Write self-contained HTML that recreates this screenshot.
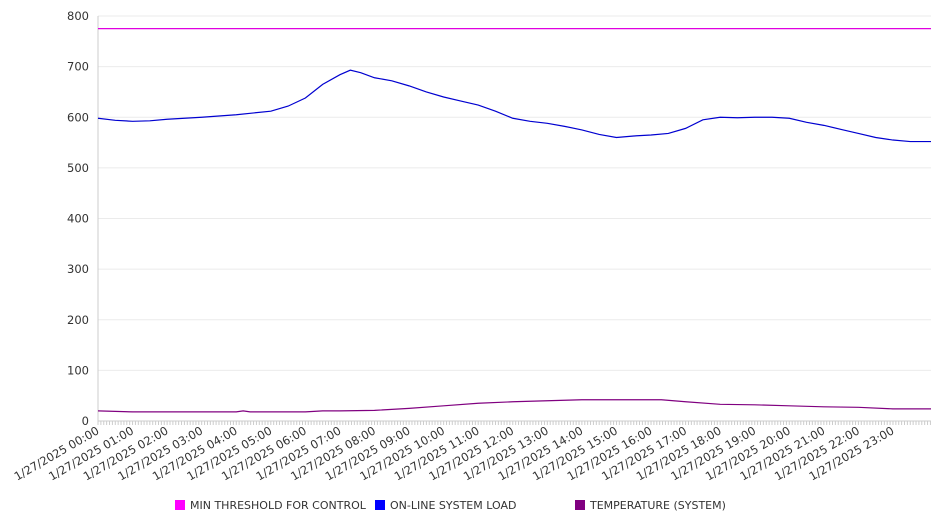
<!DOCTYPE html>
<html><head><meta charset="utf-8"><style>
body{margin:0;background:#fff;font-family:"DejaVu Sans","Liberation Sans",sans-serif;}
svg text{font-family:"DejaVu Sans","Liberation Sans",sans-serif;font-size:11.5px;fill:#333}
svg text.leg{font-size:11px}
</style></head><body>
<svg width="946" height="526" id="c"></svg>
<script>
const yTicks=[0,100,200,300,400,500,600,700,800];
const hourLabels=["00:00","01:00","02:00","03:00","04:00","05:00","06:00","07:00","08:00","09:00","10:00","11:00","12:00","13:00","14:00","15:00","16:00","17:00","18:00","19:00","20:00","21:00","22:00","23:00"];
const loadHours=[0,0.5,1,1.5,2,3,4,5,5.5,6,6.5,7,7.3,7.6,8,8.5,9,9.5,10,10.5,11,11.5,12,12.5,13,13.5,14,14.5,15,15.5,16,16.5,17,17.5,18,18.5,19,19.5,20,20.5,21,21.5,22,22.5,23,23.5,24.1];
const loadValues=[598,594,592,593,596,600,605,612,622,638,665,684,693,688,678,672,662,650,640,632,624,612,598,592,588,582,575,566,560,563,565,568,578,595,600,599,600,600,598,590,584,576,568,560,555,552,552];
const tempHours=[0,1,2,3,4,4.2,4.4,5,6,6.5,7,8,9,10,11,12,13,14,15,16.3,17,18,19,20,21,22,23,24.1];
const tempValues=[20,18,18,18,18,20,18,18,18,20,20,21,25,30,35,38,40,42,42,42,38,33,32,30,28,27,24,24];
const threshold=775;
const X0=98,X1=931,Y0=421,Y1=16,HMAX=24.1;
const sx=h=>X0+(X1-X0)*h/HMAX, sy=v=>Y0-(Y0-Y1)*v/800;
const svg=document.getElementById('c'),NS='http://www.w3.org/2000/svg';
function mk(t,a,p){const e=document.createElementNS(NS,t);for(const k in a)e.setAttribute(k,a[k]);(p||svg).appendChild(e);return e;}
yTicks.forEach(v=>{
  const g=mk('line',{x1:X0,x2:X1,y1:sy(v),y2:sy(v),stroke:v?'#ebebeb':'#ccc'});
  
  
  const t=mk('text',{x:X0-9,y:sy(v)+4,'text-anchor':'end'});t.textContent=v;
  
  
});
const ax=mk('line',{x1:X0,x2:X0,y1:Y1,y2:Y0,stroke:'#ccc'});


for(let m=0;m<=HMAX*60;m+=5){const l=mk('line',{x1:sx(m/60),x2:sx(m/60),y1:Y0,y2:Y0+4,stroke:'#ccc'});

}
hourLabels.forEach((s,i)=>{const x=sx(i);const t=mk('text',{x:x+2,y:Y0+12,'text-anchor':'end',transform:`rotate(-30 ${x+2} ${Y0+12})`});t.textContent='1/27/2025 '+s;

});
function line(hs,vs,c,n){const p=mk('polyline',{points:hs.map((h,i)=>sx(h)+','+sy(vs[i])).join(' '),fill:'none',stroke:c,'stroke-width':1.2});

}
const th=mk('line',{x1:X0,x2:X1,y1:sy(threshold),y2:sy(threshold),stroke:'#e000e0','stroke-width':1.2});


line(loadHours,loadValues,'#0000d0','load-line');
line(tempHours,tempValues,'#800080','temperature-line');
const leg=[["#ff00ff","MIN THRESHOLD FOR CONTROL",175],["#0000ff","ON-LINE SYSTEM LOAD",375],["#800080","TEMPERATURE (SYSTEM)",575]];
leg.forEach(([c,s,x])=>{const g=mk('g',{});


mk('rect',{x:x,y:500,width:10,height:10,fill:c},g);const t=mk('text',{x:x+15,y:509,'class':'leg'},g);t.textContent=s;});
</script>
</body></html>
